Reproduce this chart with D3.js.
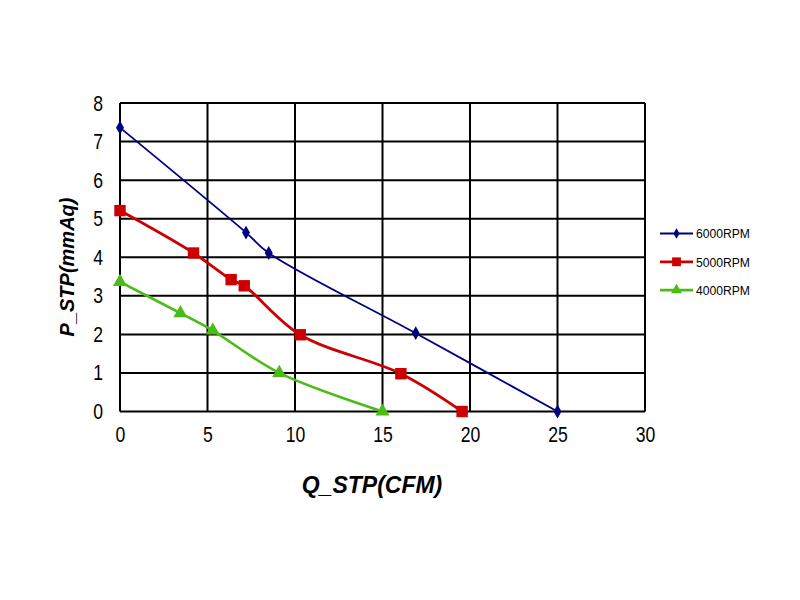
<!DOCTYPE html>
<html>
<head>
<meta charset="utf-8">
<script src="https://cdn.jsdelivr.net/npm/d3@7"></script>
<style>
  body { margin: 0; background: #fff; }
  svg { font-family: "Liberation Sans", Arial, sans-serif; }
</style>
</head>
<body>
<svg width="800" height="600"></svg>
<script>
// data
const xTicks = [0, 5, 10, 15, 20, 25, 30];
const yTicks = [0, 1, 2, 3, 4, 5, 6, 7, 8];
const seriesNames = ['6000RPM', '5000RPM', '4000RPM'];
const rpm6000 = [[0, 7.36], [7.2, 4.64], [8.5, 4.11], [16.9, 2.03], [25.0, 0]];
const rpm5000 = [[0, 5.21], [4.2, 4.11], [6.35, 3.42], [7.1, 3.26], [10.3, 1.99], [16.05, 0.98], [19.55, 0]];
const rpm4000 = [[0, 3.36], [3.45, 2.55], [5.3, 2.1], [9.1, 1.0], [15.0, 0]];

const colors = ['#000080', '#cc0000', '#4cbb17'];
const widths = [1.8, 2.8, 2.6];
const symbols = [d3.symbolDiamond, d3.symbolSquare, d3.symbolTriangle];
const symSizes = [55, 130, 85];

const svg = d3.select('svg');
const plotLeft = 120, plotRight = 645, plotTop = 103, plotBottom = 411.5;
const narrow = 0.8; // tick font is a condensed face

const x = d3.scaleLinear().domain([0, 30]).range([plotLeft, plotRight]);
const y = d3.scaleLinear().domain([0, 8]).range([plotBottom, plotTop]);

// grid
const g = svg.append('g');
g.selectAll('.vg').data(xTicks).enter().append('line')
  .attr('x1', d => x(d)).attr('x2', d => x(d))
  .attr('y1', plotTop).attr('y2', plotBottom)
  .attr('stroke', '#000').attr('stroke-width', 2);
g.selectAll('.hg').data(yTicks).enter().append('line')
  .attr('x1', plotLeft).attr('x2', plotRight)
  .attr('y1', d => y(d)).attr('y2', d => y(d))
  .attr('stroke', '#000').attr('stroke-width', 2);

// tick labels
svg.append('g')
  .attr('transform', 'translate(0,' + plotBottom + ')')
  .call(d3.axisBottom(x).tickValues(xTicks).tickSize(0).tickPadding(15))
  .call(a => a.select('.domain').remove())
  .selectAll('text')
  .attr('font-size', 22).attr('font-family', 'Liberation Sans, Arial').attr('fill', '#000')
  .attr('transform', 'scale(' + narrow + ',1)');

svg.append('g')
  .attr('transform', 'translate(' + plotLeft + ',0)')
  .call(d3.axisLeft(y).tickValues(yTicks).tickSize(0))
  .call(a => a.select('.domain').remove())
  .selectAll('text')
  .attr('font-size', 22).attr('font-family', 'Liberation Sans, Arial').attr('fill', '#000')
  .attr('x', -17 / narrow)
  .attr('transform', 'scale(' + narrow + ',1)');

// axis titles
svg.append('text')
  .attr('x', 372).attr('y', 493)
  .attr('text-anchor', 'middle')
  .attr('font-size', 23).attr('font-weight', 'bold').attr('font-style', 'italic')
  .text('Q_STP(CFM)');

svg.append('text')
  .attr('transform', 'translate(74,267) rotate(-90)')
  .attr('text-anchor', 'middle')
  .attr('font-size', 20).attr('font-weight', 'bold').attr('font-style', 'italic')
  .text('P_STP(mmAq)');

// series
const allSeries = [rpm6000, rpm5000, rpm4000];
const line = d3.line()
  .x(d => x(d[0])).y(d => y(d[1]))
  .curve(d3.curveCatmullRom.alpha(0.5));

allSeries.forEach((data, i) => {
  svg.append('path')
    .datum(data)
    .attr('d', line)
    .attr('fill', 'none')
    .attr('stroke', colors[i])
    .attr('stroke-width', widths[i]);
  svg.selectAll('.m' + i).data(data).enter().append('path')
    .attr('transform', d => 'translate(' + x(d[0]) + ',' + y(d[1]) + ')')
    .attr('d', d3.symbol().type(symbols[i]).size(symSizes[i]))
    .attr('fill', colors[i]);
});

// legend
const legend = svg.append('g');
seriesNames.forEach((name, i) => {
  const ly = 233.5 + i * 28.3;
  legend.append('line')
    .attr('x1', 660).attr('x2', 693).attr('y1', ly).attr('y2', ly)
    .attr('stroke', colors[i]).attr('stroke-width', widths[i]);
  legend.append('path')
    .attr('transform', 'translate(676.5,' + ly + ')')
    .attr('d', d3.symbol().type(symbols[i]).size(symSizes[i] * 0.6))
    .attr('fill', colors[i]);
  legend.append('text')
    .attr('x', 696 / 0.9).attr('y', ly + 5)
    .attr('transform', 'scale(0.9,1)')
    .attr('font-size', 13.5)
    .text(name);
});
</script>
</body>
</html>
